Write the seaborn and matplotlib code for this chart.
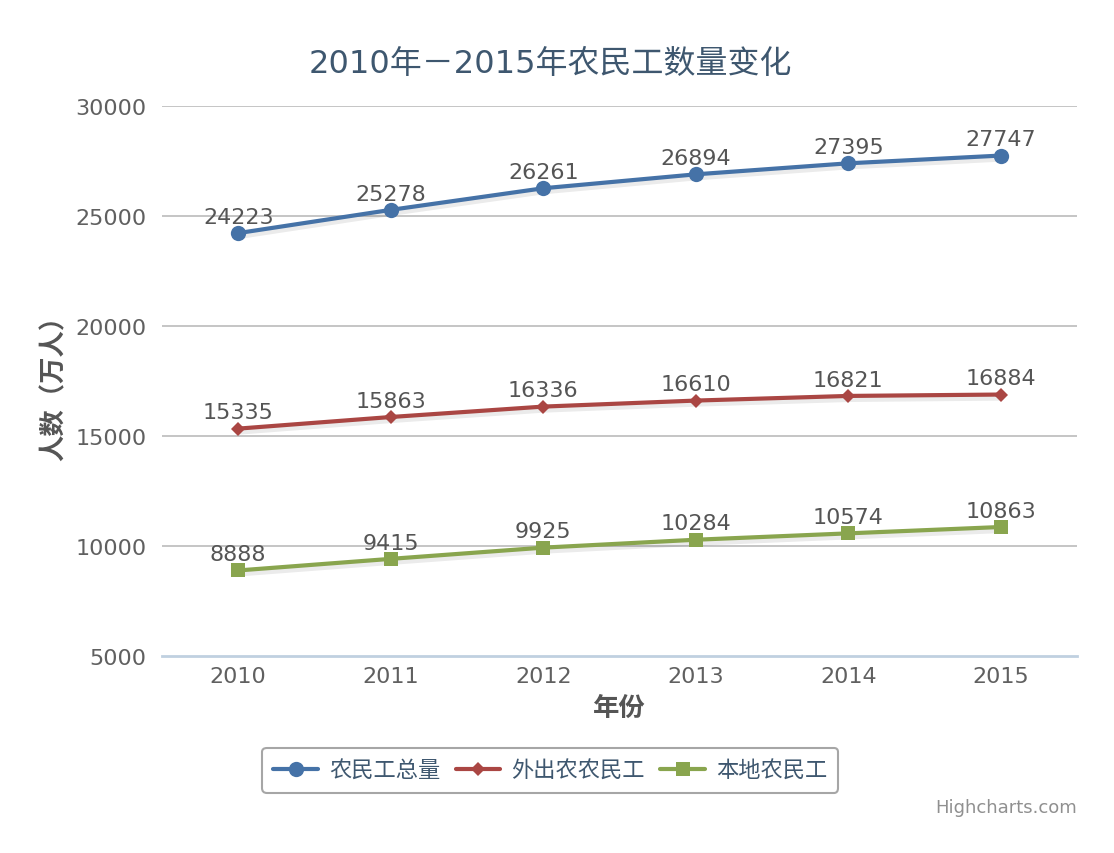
import matplotlib
matplotlib.use("Agg")
import matplotlib.pyplot as plt
from matplotlib.lines import Line2D
import numpy as np
import pandas as pd
import seaborn as sns

# data
years = ["2010", "2011", "2012", "2013", "2014", "2015"]
total_workers = [24223, 25278, 26261, 26894, 27395, 27747]
migrant_workers = [15335, 15863, 16336, 16610, 16821, 16884]
local_workers = [8888, 9415, 9925, 10284, 10574, 10863]
series_names = ["农民工总量", "外出农农民工", "本地农民工"]
y_ticks = [5000, 10000, 15000, 20000, 25000, 30000]

colors = ["#4572A7", "#AA4643", "#89A54E"]
markers = ["o", "D", "s"]
marker_sizes = [11, 7, 10]

sns.set_theme(style="white")
plt.rcParams["font.family"] = ["DejaVu Sans", "Noto Sans CJK SC"]
cjk = ["Noto Sans CJK SC", "DejaVu Sans"]

fig = plt.figure(figsize=(11.14, 8.54), dpi=100)
ax = fig.add_axes([0.1454, 0.2307, 0.8214, 0.644])

df = pd.DataFrame({
    "x": list(range(len(years))) * 3,
    "value": total_workers + migrant_workers + local_workers,
    "series": np.repeat(series_names, len(years)),
})

for name, color, mk, ms in zip(series_names, colors, markers, marker_sizes):
    sub = df[df["series"] == name]
    # faint drop shadow under the line, like the Highcharts default
    ax.plot(sub["x"], sub["value"] - 120, color="black", alpha=0.08,
            linewidth=5, zorder=2)
    sns.lineplot(data=sub, x="x", y="value", color=color, linewidth=3,
                 marker=mk, markersize=ms, markeredgewidth=0,
                 ax=ax, legend=False, zorder=3)
    for xv, yv in zip(sub["x"], sub["value"]):
        ax.annotate(f"{yv}", (xv, yv), xytext=(0, 4.5), textcoords="offset points",
                    ha="center", va="bottom", fontsize=16, color="#555555",
                    zorder=4)

ax.set_xlim(-0.5, len(years) - 0.5)
ax.set_ylim(5000, 30000)
ax.set_yticks(y_ticks)
ax.set_yticklabels([str(t) for t in y_ticks], fontsize=16, color="#606060")
ax.set_xticks(range(len(years)))
ax.set_xticklabels(years, fontsize=16, color="#606060")
ax.set_xticks(np.arange(-0.5, len(years)), minor=True)
ax.tick_params(axis="x", which="major", length=0, pad=7)
ax.tick_params(axis="x", which="minor", length=9, width=1.5, color="#C0D0E0",
               direction="out")
ax.tick_params(axis="y", length=0, pad=11)

for t in y_ticks[1:]:
    ax.axhline(t, color="#C0C0C0", linewidth=1.3, zorder=1)

for side in ["top", "right", "left"]:
    ax.spines[side].set_visible(False)
ax.spines["bottom"].set_color("#C0D0E0")
ax.spines["bottom"].set_linewidth(2)

ax.set_xlabel("年份", fontsize=19, fontweight="bold", color="#555555",
              labelpad=6, family=cjk)
ax.set_ylabel("人数（万人）", fontsize=19, fontweight="bold", color="#555555",
              labelpad=6, family=cjk)

fig.text(0.494, 0.924, "2010年－2015年农民工数量变化", ha="center", va="center",
         fontsize=23, color="#3E576F")

handles = [Line2D([0], [0], color=c, linewidth=3, marker=m, markersize=s,
                  markeredgewidth=0)
           for c, m, s in zip(colors, markers, marker_sizes)]
leg = fig.legend(handles, series_names, loc="center", bbox_to_anchor=(0.494, 0.097),
                 ncol=3, frameon=True, fancybox=True,
                 handlelength=2.0, handletextpad=0.5, columnspacing=0.7,
                 borderpad=0.5, edgecolor="#909090", labelcolor="#3E576F",
                 prop={"family": cjk, "size": 16})
leg.get_frame().set_linewidth(1.5)

fig.text(0.967, 0.054, "Highcharts.com", ha="right", va="center", fontsize=13,
         color="#909090")

fig.savefig("out.png", dpi=100)
